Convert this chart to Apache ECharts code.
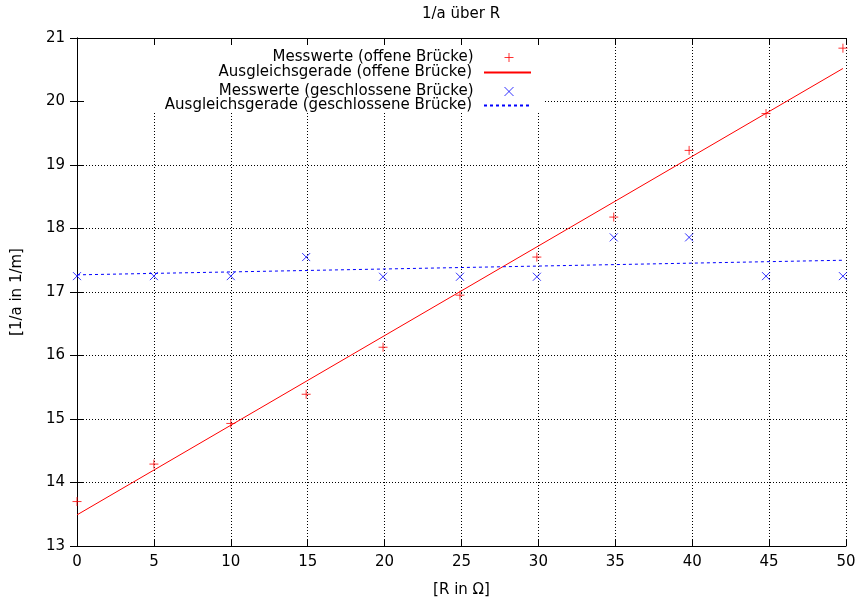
<!DOCTYPE html>
<html>
<head>
<meta charset="utf-8">
<script src="https://cdn.jsdelivr.net/npm/echarts@6/dist/echarts.min.js"></script>
<style>
  html, body { margin: 0; padding: 0; background: #fff; }
  #chart { width: 859px; height: 603px; }
</style>
</head>
<body>
<div id="chart"></div>
<script>
// measured values
var rValues = [0, 5, 10, 14.9, 19.9, 24.9, 29.9, 34.9, 39.8, 44.8, 49.8];
var openBridge = [13.70, 14.29, 14.93, 15.39, 16.13, 16.95, 17.55, 18.18, 19.23, 19.81, 20.84];
var closedBridge = [17.25, 17.25, 17.25, 17.55, 17.24, 17.24, 17.24, 17.86, 17.86, 17.25, 17.25];

// fit lines (end points)
var fitR = [0, 49.8];
var fitOpen = [13.49, 20.52];
var fitClosed = [17.27, 17.50];

var names = [
    'Messwerte (offene Brücke)',
    'Ausgleichsgerade (offene Brücke)',
    'Messwerte (geschlossene Brücke)',
    'Ausgleichsgerade (geschlossene Brücke)'
];

function pairs(xs, ys) {
    var out = [];
    for (var i = 0; i < xs.length; i++) {
        out.push([xs[i], ys[i]]);
    }
    return out;
}

var font = 'DejaVu Sans';
var plusPath = 'path://M0,5L10,5M5,0L5,10';
var crossPath = 'path://M0,0L10,10M10,0L0,10';

// one legend per row so the rows line up on the right like gnuplot's key
function legendRow(name, top, right, h, isLine) {
    var l = {
        data: [name],
        orient: 'horizontal',
        align: 'right',
        right: right,
        top: top,
        padding: 0,
        itemWidth: 47,
        itemHeight: h,
        selectedMode: false,
        textStyle: { fontFamily: font, fontSize: 15, color: '#000', padding: [0, 7, 0, 0] }
    };
    if (isLine) {
        l.itemStyle = { opacity: 0 };
    } else {
        l.itemStyle = { borderWidth: 1 };
    }
    return l;
}

var chart = echarts.init(document.getElementById('chart'));

var gridDash = { color: '#000', width: 1, type: [1, 2] };

var option = {
    animation: false,
    backgroundColor: '#fff',
    grid: { left: 77, right: 13, top: 38, bottom: 55, containLabel: false },
    graphic: [
        {
            type: 'rect',
            z: 1,
            shape: { x: 84, y: 45, width: 459, height: 68 },
            style: { fill: '#fff' }
        },
        {
            type: 'text',
            x: 461,
            y: 14,
            style: {
                text: '1/a über R',
                fontFamily: font,
                fontSize: 15,
                fill: '#000',
                align: 'center',
                verticalAlign: 'middle'
            }
        }
    ],
    legend: [
        legendRow(names[0], 50, 345, 9, false),
        legendRow(names[1], 65, 327, 14, true),
        legendRow(names[2], 84, 345, 9, false),
        legendRow(names[3], 98, 327, 14, true)
    ],
    xAxis: [
        {
            type: 'value',
            position: 'bottom',
            min: 0,
            max: 50,
            interval: 5,
            name: '[R in Ω]',
            nameLocation: 'middle',
            nameGap: 37,
            nameTextStyle: { fontFamily: font, fontSize: 15, color: '#000' },
            axisLine: { lineStyle: { color: '#000', width: 1 } },
            axisTick: { inside: true, length: 7, lineStyle: { color: '#000' } },
            axisLabel: { fontFamily: font, fontSize: 15, color: '#000', margin: 9 },
            splitLine: { show: true, lineStyle: gridDash }
        },
        {
            type: 'value',
            position: 'top',
            min: 0,
            max: 50,
            interval: 5,
            axisLine: { lineStyle: { color: '#000', width: 1 } },
            axisTick: { inside: true, length: 7, lineStyle: { color: '#000' } },
            axisLabel: { show: false },
            splitLine: { show: false }
        }
    ],
    yAxis: [
        {
            type: 'value',
            position: 'left',
            min: 13,
            max: 21,
            interval: 1,
            name: '[1/a in 1/m]',
            nameLocation: 'middle',
            nameGap: 52,
            nameTextStyle: { fontFamily: font, fontSize: 15, color: '#000' },
            axisLine: { show: true, lineStyle: { color: '#000', width: 1 } },
            axisTick: { show: true, inside: true, length: 7, lineStyle: { color: '#000' } },
            axisLabel: { fontFamily: font, fontSize: 15, color: '#000', margin: 12 },
            splitLine: { show: true, lineStyle: gridDash }
        },
        {
            type: 'value',
            position: 'right',
            min: 13,
            max: 21,
            interval: 1,
            axisLine: { show: true, lineStyle: { color: '#000', width: 1 } },
            axisTick: { show: true, inside: true, length: 7, lineStyle: { color: '#000' } },
            axisLabel: { show: false },
            splitLine: { show: false }
        }
    ],
    series: [
        {
            name: names[0],
            type: 'scatter',
            symbol: plusPath,
            symbolSize: 9,
            itemStyle: { color: '#ff0000', borderColor: '#ff0000', borderWidth: 1 },
            data: pairs(rValues, openBridge)
        },
        {
            name: names[1],
            type: 'line',
            symbol: 'none',
            showSymbol: false,
            itemStyle: { color: '#ff0000' },
            lineStyle: { color: '#ff0000', width: 1 },
            data: pairs(fitR, fitOpen)
        },
        {
            name: names[2],
            type: 'scatter',
            symbol: crossPath,
            symbolSize: 8,
            itemStyle: { color: '#0000ff', borderColor: '#0000ff', borderWidth: 1 },
            data: pairs(rValues, closedBridge)
        },
        {
            name: names[3],
            type: 'line',
            symbol: 'none',
            showSymbol: false,
            itemStyle: { color: '#0000ff' },
            lineStyle: { color: '#0000ff', width: 1, type: [3, 3] },
            data: pairs(fitR, fitClosed)
        }
    ]
};

chart.setOption(option);
</script>
</body>
</html>
